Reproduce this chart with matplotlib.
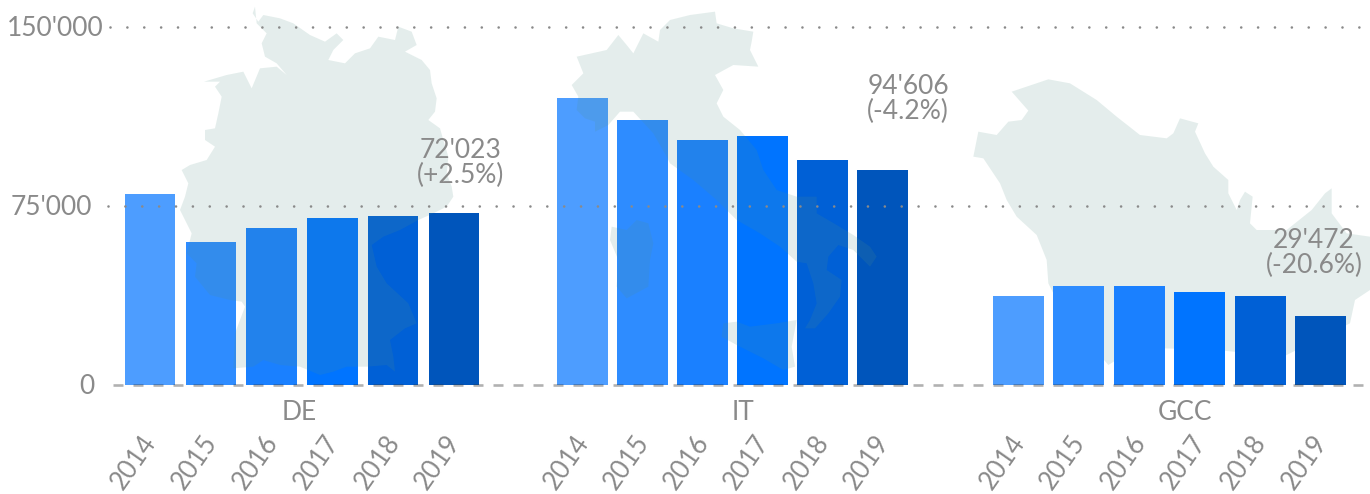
import matplotlib
matplotlib.use("Agg")
import matplotlib.pyplot as plt
from matplotlib.patches import Polygon
from matplotlib.transforms import ScaledTranslation

plt.rcParams['font.family'] = ['Lato', 'DejaVu Sans']

years = ['2014', '2015', '2016', '2017', '2018', '2019']
groups = ['DE', 'IT', 'GCC']
de_values = [80000, 59800, 65700, 69900, 70700, 72023]
it_values = [120200, 111000, 102600, 104300, 94200, 90000]
gcc_values = [37100, 41300, 41300, 38800, 37100, 28700]
callouts = ["72'023\n(+2.5%)", "94'606\n(-4.2%)", "29'472\n(-20.6%)"]
y_ticks = [0, 75000, 150000]
y_labels = ['0', "75'000", "150'000"]

bar_colors = ['#4d9dff', '#2e8cff', '#1a80ff', '#0074ff', '#0060d6', '#0055bb']
TEXT = '#8a8a8a'
W, H = 1370, 494
Y_TOP, Y_ZERO = 27, 384.7

# Decorative background silhouettes, traced in zoomed reference crops: (x0, y0, points)
germany = (0, 0, [(765,20),(758,40),(775,65),(790,45),(840,55),(880,70),(930,105),(975,125),(1010,100),(1030,120),(1000,150),(985,180),(1035,190),(1065,160),(1110,145),(1135,110),(1185,120),(1195,80),(1235,95),(1250,135),(1215,155),(1265,180),(1290,210),(1295,250),(1310,295),(1305,335),(1285,360),(1320,385),(1330,420),(1345,470),(1340,520),(1355,560),(1360,590),(1340,620),(1300,640),(1255,660),(1200,690),(1150,710),(1115,735),(1130,800),(1160,850),(1225,910),(1250,970),(1215,985),(1170,1020),(1180,1070),(1185,1115),(1160,1095),(1100,1100),(1040,1100),(1000,1115),(960,1125),(900,1100),(840,1095),(790,1080),(760,1100),(700,1105),(705,1000),(735,920),(725,905),(690,900),(630,885),(585,830),(590,790),(560,760),(575,700),(540,630),(555,590),(565,550),(545,510),(570,495),(620,480),(645,440),(615,420),(615,390),(645,385),(655,340),(665,290),(645,260),(660,245),(612,245),(680,225),(730,215),(755,265),(780,205),(830,200),(860,225),(830,190),(795,170),(785,130),(800,100),(770,70)])
italy = (520, 0, [(585,35),(510,45),(450,60),(420,90),(415,125),(370,100),(340,160),(320,135),(295,105),(260,150),(170,170),(190,220),(155,255),(175,290),(170,330),(195,355),(225,365),(225,395),(265,375),(300,335),(340,335),(400,400),(440,470),(450,490),(520,540),(590,600),(650,660),(720,700),(780,740),(830,785),(860,790),(880,850),(890,910),(870,960),(855,985),(885,985),(925,940),(960,890),(965,840),(920,810),(925,770),(955,735),(1000,750),(1050,800),(1070,770),(1050,740),(1000,705),(950,675),(890,640),(890,590),(830,590),(770,570),(730,510),(710,450),(660,390),(610,350),(590,310),(610,270),(585,225),(640,195),(715,200),(690,150),(695,125),(700,95),(640,85),(590,70)])
sardinia = (520, 0, [(275,680),(270,720),(295,780),(290,860),(320,895),(385,860),(390,780),(400,730),(385,670),(350,660),(320,690)])
sicily = (520, 0, [(610,970),(605,1010),(650,1035),(730,1075),(790,1110),(825,1100),(815,1040),(830,960),(770,970),(690,980),(650,965)])
gcc_map = (950, 60, [(295,58),(185,95),(235,152),(215,180),(175,185),(140,225),(85,215),(70,290),(100,295),(150,370),(170,420),(200,470),(260,525),(290,600),(295,670),(330,740),(370,770),(410,820),(445,880),(475,915),(540,875),(640,865),(800,870),(1000,890),(1100,840),(1200,790),(1215,720),(1260,690),(1260,530),(1190,520),(1145,460),(1145,385),(1125,400),(1085,450),(1010,510),(920,510),(900,490),(908,410),(885,395),(870,420),(860,450),(835,400),(835,360),(790,320),(765,280),(735,215),(745,190),(690,175),(670,220),(650,235),(570,225),(500,170),(440,120),(360,70)])

fig = plt.figure(figsize=(W / 100, H / 100), dpi=100, facecolor='white')
plot_bottom = (H - Y_ZERO) / H
plot_height = (Y_ZERO - Y_TOP) / H
MAP_RGBA = (83 / 255, 146 / 255, 134 / 255, 0.157)


def pixel_axes(zorder):
    a = fig.add_axes([0, 0, 1, 1], zorder=zorder)
    a.set_xlim(0, W)
    a.set_ylim(H, 0)
    a.axis('off')
    return a


def add_map(a, shape):
    x0, y0, pts = shape
    xy = [(x0 + p / 3, y0 + q / 3) for p, q in pts]
    a.add_patch(Polygon(xy, closed=True, facecolor=MAP_RGBA, edgecolor='none'))


# The GCC silhouette sits behind the bars, the other two in front
under = pixel_axes(0)
add_map(under, gcc_map)

# facets: first bar centre, spacing, bar width in pixels
facets = [(groups[0], de_values, 150.0, 60.8, 50.5),
          (groups[1], it_values, 582.5, 60.0, 51.0),
          (groups[2], gcc_values, 1018.5, 60.4, 51.0)]
label_shift = ScaledTranslation(-9 / 100, 0, fig.dpi_scale_trans)
for name, values, first, step, bw in facets:
    ax = fig.add_axes([(first - step / 2) / W, plot_bottom, step * 6 / W, plot_height], zorder=1)
    ax.patch.set_alpha(0)
    ax.bar(years, values, width=bw / step, color=bar_colors, linewidth=0)
    ax.set_xlim(-0.5, 5.5)
    ax.set_ylim(0, 150000)
    ax.set_yticks([])
    ax.tick_params(axis='x', length=0, pad=33, labelsize=18.5, labelcolor=TEXT)
    for lab in ax.get_xticklabels():
        lab.set_rotation(55)
        lab.set_ha('right')
        lab.set_rotation_mode('anchor')
        lab.set_transform(lab.get_transform() + label_shift)
    for s in ax.spines.values():
        s.set_visible(False)

# pixel-space overlay: silhouettes and text
px = pixel_axes(2)
for shape in (germany, italy, sardinia, sicily):
    add_map(px, shape)

# value axis overlay: grid, baseline and labels
gx = fig.add_axes([0, plot_bottom, 1, plot_height], zorder=3)
gx.patch.set_alpha(0)
gx.set_xlim(0, W)
gx.set_ylim(0, 150000)
gx.axis('off')
DOT_LW = 1.9
for value, start in ((y_ticks[2], 110.5), (y_ticks[1], 108.5)):
    gx.plot([start, W], [value, value], color='#8a8a8a', lw=DOT_LW,
            linestyle=(0, (0.01, 16.85 * 0.72 / DOT_LW)),
            dash_capstyle='round', clip_on=False)
gx.plot([113, 1366], [y_ticks[0]] * 2, color=(0.2, 0.2, 0.2, 0.38), lw=DOT_LW,
        linestyle=(0, (10 * 0.72 / DOT_LW, 10 * 0.72 / DOT_LW)),
        dash_capstyle='butt', clip_on=False)

for label, x, y in ((y_labels[2], 55, 29), (y_labels[1], 51, 207), (y_labels[0], 87, 386)):
    px.text(x, y, label, color=TEXT, fontsize=19, ha='center', va='center')
for name, x in zip(groups, (299, 743, 1185)):
    px.text(x, 412, name, color=TEXT, fontsize=19, ha='center', va='center')
for note, x, y in zip(callouts, (461, 908, 1314), (163, 99, 253)):
    px.text(x, y, note, color=TEXT, fontsize=19, ha='center', va='center', linespacing=1.02)

fig.savefig('out.png', dpi=100)
